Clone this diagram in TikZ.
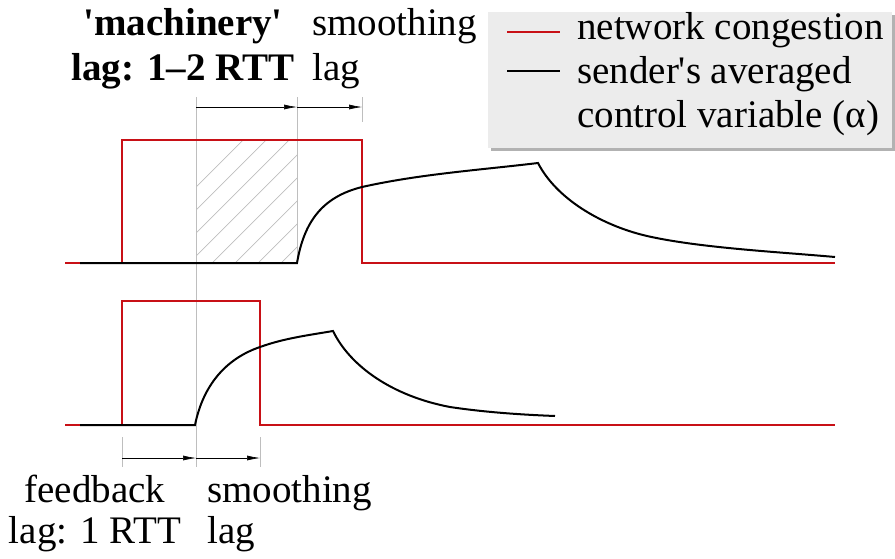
\documentclass[tikz,border=0pt]{standalone}
\usepackage{fontspec}
\newfontfamily\timesf{LiberationSerif}[Extension=.ttf, UprightFont=*-Regular, BoldFont=*-Bold]
\usetikzlibrary{arrows.meta}
\definecolor{congred}{RGB}{200,16,22}
\definecolor{legfill}{RGB}{236,236,236}
\definecolor{guide}{RGB}{190,190,190}
\tikzset{
  congline/.style={draw=congred, line width=2pt, line join=miter},
  ctrlline/.style={draw=black, line width=2pt},
  guideline/.style={draw=guide, line width=0.8pt},
  lagarrow/.style={draw=black, line width=0.6pt, -{Latex[length=13pt,width=5pt]}},
  lbl/.style={inner sep=0pt, anchor=base west, font=\timesf\fontsize{39}{44}\selectfont},
  lblc/.style={inner sep=0pt, anchor=base, font=\timesf\fontsize{39}{44}\selectfont},
  hatch/.style={draw=guide, line width=0.7pt},
}
\begin{document}
\begin{tikzpicture}[x=1pt, y=-1pt]
\useasboundingbox (0,0) rectangle (895,558);

% ---------- legend ----------
\fill[gray!60] (491,15) rectangle (895,151);
\fill[legfill] (488,12) rectangle (892,148);
\coordinate (lr1) at (507,32); \coordinate (lr2) at (560,32);
\coordinate (lb1) at (507,71); \coordinate (lb2) at (560,71);
\draw[congline] (lr1) -- (lr2);
\draw[ctrlline] (lb1) -- (lb2);
\node[lbl] (leg1) at (577,39) {network congestion};
\node[lbl] (leg2) at (577,83) {sender\textquotesingle s averaged};
\node[lbl] (leg3) at (577,127) {control variable (α)};

% ---------- top plot ----------
% hatched region
\begin{scope}
\clip (197,140) rectangle (297,263);
\foreach \i in {0,...,12}{
  \draw[hatch] (120+\i*23,263) -- ++(160,-160);
}
\end{scope}
% guide lines
\coordinate (g1t) at (196,97); \coordinate (g1b) at (196,467);
\coordinate (g2t) at (297,97); \coordinate (g2b) at (297,263);
\coordinate (g3t) at (362,97); \coordinate (g3b) at (362,122);
\draw[guideline] (g1t) -- (g1b);
\draw[guideline] (g2t) -- (g2b);
\draw[guideline] (g3t) -- (g3b);
% arrows
\coordinate (ta1) at (196,107); \coordinate (ta2) at (297,107); \coordinate (ta3) at (362,107);
\draw[lagarrow] (ta1) -- (ta2);
\draw[lagarrow] (ta2) -- (ta3);
% congestion
\draw[congline] (65,263) -- (122,263) -- (122,140) -- (362,140) -- (362,263) -- (835,263);
% control variable
\draw[ctrlline] (80,263) -- (297,263)
  .. controls (304,222) and (322,197) .. (362,187)
  .. controls (420,174) and (480,170) .. (538,163)
  .. controls (556,198) and (600,225) .. (647,236)
  .. controls (700,248) and (780,252) .. (835,257);

% top labels
\node[lblc, font=\timesf\fontsize{39}{44}\selectfont\bfseries] (mach) at (183,35) {\textquotesingle machinery\textquotesingle};
\node[lblc, font=\timesf\fontsize{39}{44}\selectfont\bfseries] (mlag) at (183,80) {lag: 1–2 RTT};
\node[lbl] (sm1) at (312,35) {smoothing};
\node[lbl] (sm1b) at (312,80) {lag};

% ---------- bottom plot ----------
\coordinate (g4t) at (122,437); \coordinate (g4b) at (122,467);
\coordinate (g5t) at (260,437); \coordinate (g5b) at (260,467);
\draw[guideline] (g4t) -- (g4b);
\draw[guideline] (g5t) -- (g5b);
\coordinate (ba1) at (122,458); \coordinate (ba2) at (196,458); \coordinate (ba3) at (260,458);
\draw[lagarrow] (ba1) -- (ba2);
\draw[lagarrow] (ba2) -- (ba3);
\draw[congline] (65,425) -- (122,425) -- (122,301) -- (260,301) -- (260,425) -- (835,425);
\draw[ctrlline] (80,425) -- (195,425)
  .. controls (203,386) and (225,359) .. (260,347)
  .. controls (285,338) and (310,335) .. (333,331)
  .. controls (350,366) and (392,396) .. (450,407)
  .. controls (490,413) and (530,415) .. (555,416);

\node[lblc] (fb1) at (95,502) {feedback};
\node[lblc] (fb2) at (95,543) {lag: 1 RTT};
\node[lbl] (sm2) at (207,502) {smoothing};
\node[lbl] (sm2b) at (207,543) {lag};
\end{tikzpicture}
\end{document}
